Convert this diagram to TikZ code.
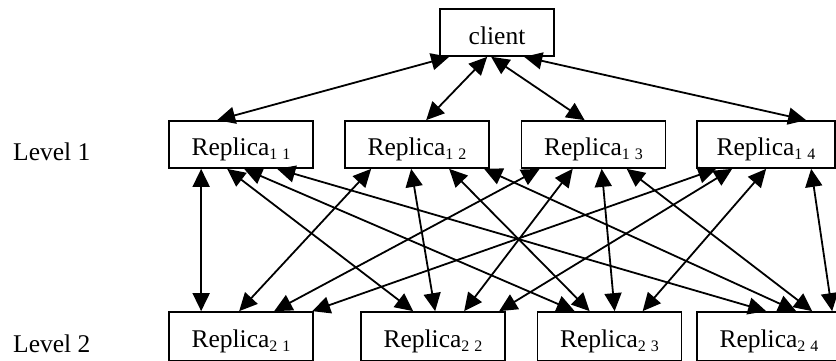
\documentclass[tikz,border=0pt]{standalone}
\usepackage{fontspec}
\setmainfont{Liberation Serif}
\usetikzlibrary{arrows.meta}
% two-part subscript index, e.g. "1 1"
\newcommand\idx[2]{\raisebox{-4pt}{\fontsize{16}{16}\selectfont #1\hspace{5pt}#2}}
% double-headed connector between two boxes, offsets measured from the west edge
\newcommand\pairarrow[4]{\draw[link] ([xshift=#2pt]#1.south west) -- ([xshift=#4pt]#3.north west);}
\begin{document}
\begin{tikzpicture}[x=1pt,y=-1pt,
  box/.style={draw, line width=1.7pt, inner sep=0pt, minimum height=47pt,
    minimum width=144pt, text height=24pt, text depth=3pt,
    font=\fontsize{25.5}{30}\selectfont},
  link/.style={line width=1.8pt,
    {Triangle[length=18pt,width=17pt]}-{Triangle[length=18pt,width=17pt]}},
  lvl/.style={anchor=base west, inner sep=0pt, font=\fontsize{25.5}{30}\selectfont}]
\useasboundingbox (0,0) rectangle (836,360);

% client
\node[box, minimum width=114pt, text depth=1pt] (client) at (497,32.5) {client};

% level 1 replicas
\node[box] (r11) at (241,144.5) {Replica\idx{1}{1}};
\node[box] (r12) at (417,144.5) {Replica\idx{1}{2}};
\node[box] (r13) at (593.5,144.5) {Replica\idx{1}{3}};
\node[box, minimum width=138pt] (r14) at (766,144.5) {Replica\idx{1}{4}};

% level 2 replicas
\node[box, minimum height=49pt] (r21) at (241,336.5) {Replica\idx{2}{1}};
\node[box, minimum height=49pt] (r22) at (433,336.5) {Replica\idx{2}{2}};
\node[box, minimum height=49pt] (r23) at (609.5,336.5) {Replica\idx{2}{3}};
\node[box, minimum height=49pt] (r24) at (769,336.5) {Replica\idx{2}{4}};

% level labels
\node[lvl] (lv1) at (13,160) {Level 1};
\node[lvl] (lv2) at (13,352) {Level 2};

% client <-> level 1
\pairarrow{client}{10}{r11}{49}
\pairarrow{client}{48}{r12}{82}
\pairarrow{client}{52}{r13}{64}
\pairarrow{client}{85}{r14}{110}

% level 1 <-> level 2
\pairarrow{r11}{33}{r21}{33}
\pairarrow{r11}{59}{r22}{53}
\pairarrow{r11}{76}{r23}{38}
\pairarrow{r11}{109}{r24}{70}

\pairarrow{r12}{27}{r21}{71}
\pairarrow{r12}{67}{r22}{75}
\pairarrow{r12}{105}{r23}{53}
\pairarrow{r12}{140}{r24}{100}

\pairarrow{r13}{19}{r21}{106}
\pairarrow{r13}{52}{r22}{104}
\pairarrow{r13}{81}{r23}{78}
\pairarrow{r13}{106}{r24}{116}

\pairarrow{r14}{20}{r21}{144}
\pairarrow{r14}{36}{r22}{139}
\pairarrow{r14}{70}{r23}{106}
\pairarrow{r14}{115}{r24}{136}
\end{tikzpicture}
\end{document}
